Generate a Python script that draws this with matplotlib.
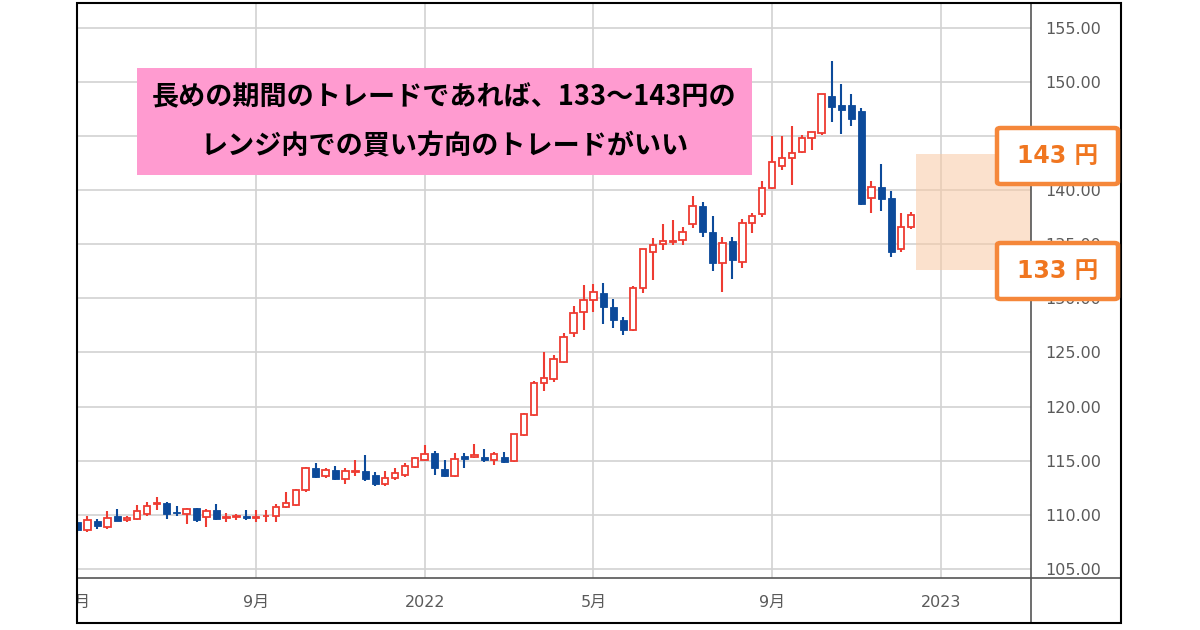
import numpy as np
import matplotlib
matplotlib.use('Agg')
import matplotlib.pyplot as plt
from matplotlib.patches import Rectangle, FancyBboxPatch
from matplotlib.lines import Line2D

plt.rcParams['font.family'] = ['DejaVu Sans', 'Noto Sans CJK JP']

# weekly USD/JPY candles, May 2021 - Dec 2022
opens = [109.35, 108.60, 109.43, 108.84, 109.90, 109.55, 109.60, 110.07, 111.00, 111.10,
         110.25, 110.07, 110.60, 109.77, 110.44, 109.72, 109.78, 109.90, 109.70, 109.85,
         109.90, 110.75, 110.90, 112.30, 114.30, 113.60, 114.14, 113.28, 113.95, 114.00,
         113.70, 112.85, 113.37, 113.70, 114.45, 115.06, 115.74, 114.20, 113.60, 115.43,
         115.31, 115.37, 115.06, 115.30, 115.00, 117.40, 119.20, 122.15, 122.52, 124.15,
         126.77, 128.70, 129.85, 130.47, 129.23, 128.00, 127.08, 130.93, 134.30, 135.00,
         135.20, 135.40, 136.85, 138.54, 136.10, 133.25, 135.30, 133.40, 136.94, 137.80,
         140.20, 142.20, 142.95, 143.56, 144.80, 145.26, 148.73, 147.90, 147.90, 147.30,
         139.25, 140.30, 139.30, 134.60, 136.55]
highs = [109.70, 109.90, 109.60, 110.35, 110.50, 109.90, 110.90, 111.20, 111.67, 111.15,
         110.80, 110.60, 110.65, 110.50, 111.00, 110.20, 110.10, 110.45, 110.40, 110.44,
         111.00, 112.10, 112.40, 114.45, 114.76, 114.30, 114.50, 114.30, 115.06, 115.50,
         113.95, 114.00, 114.35, 114.76, 115.30, 116.45, 115.85, 115.06, 115.70, 115.74,
         116.50, 116.05, 115.80, 115.80, 117.50, 119.40, 122.40, 125.07, 124.77, 126.77,
         129.30, 131.24, 131.35, 131.40, 129.90, 128.25, 131.10, 134.60, 135.55, 136.90,
         137.20, 136.63, 139.46, 138.94, 137.60, 135.65, 135.65, 137.30, 137.86, 140.85,
         145.00, 145.00, 145.90, 145.10, 145.40, 148.86, 151.94, 149.80, 148.90, 147.60,
         140.85, 142.40, 139.90, 137.90, 138.00]
lows = [108.30, 108.40, 108.70, 108.66, 109.40, 109.30, 109.50, 109.90, 110.44, 109.60,
        109.90, 109.15, 109.36, 108.85, 109.55, 109.35, 109.50, 109.55, 109.30, 109.36,
        109.36, 110.60, 110.80, 112.10, 113.40, 113.40, 113.20, 112.85, 113.60, 113.15,
        112.66, 112.70, 113.20, 113.50, 114.35, 115.00, 113.68, 113.50, 113.50, 114.30,
        115.20, 114.90, 114.60, 114.80, 114.90, 117.30, 119.10, 121.47, 122.30, 124.00,
        126.46, 127.08, 128.77, 127.60, 127.24, 126.60, 127.00, 130.50, 131.70, 134.47,
        134.90, 134.94, 136.50, 135.70, 132.56, 130.56, 131.80, 132.78, 136.00, 137.50,
        140.10, 141.90, 140.50, 143.40, 143.70, 145.10, 146.30, 145.20, 145.90, 138.60,
        137.90, 138.10, 133.85, 134.30, 136.40]
closes = [108.60, 109.50, 108.96, 109.73, 109.45, 109.65, 110.30, 110.80, 111.10, 110.07,
          110.15, 110.50, 109.50, 110.30, 109.60, 109.80, 109.86, 109.65, 109.80, 109.92,
          110.75, 111.10, 112.30, 114.30, 113.50, 114.14, 113.30, 114.00, 114.05, 113.28,
          112.85, 113.40, 113.90, 114.50, 115.20, 115.60, 114.30, 113.60, 115.13, 115.13,
          115.53, 115.06, 115.60, 114.90, 117.44, 119.30, 122.15, 122.60, 124.37, 126.46,
          128.60, 129.85, 130.60, 129.23, 128.00, 127.08, 131.00, 134.54, 134.94, 135.30,
          135.28, 136.16, 138.54, 136.10, 133.25, 135.10, 133.55, 137.00, 137.60, 140.20,
          142.60, 142.95, 143.40, 144.85, 145.40, 148.86, 147.70, 147.40, 146.60, 138.70,
          140.30, 139.20, 134.30, 136.60, 137.70]

# month labels sit on the first weekly candle of that month
tick_index = [0, 18, 35, 52, 70, 87]
tick_labels = ['5月', '9月', '2022', '5月', '9月', '2023']
y_ticks = [105, 110, 115, 120, 125, 130, 135, 140, 145, 150, 155]

range_low, range_high = 132.6, 143.3
range_labels = ['143 円', '133 円']
note_lines = ['長めの期間のトレードであれば、133～143円の',
              'レンジ内での買い方向のトレードがいい']

RED = '#ee3b32'
BLUE = '#0c4a9a'
ORANGE = '#f5873a'
W, H = 1200, 630


def fx(px):
    return px / W


def fy(py):
    # pixel measured from the top of the image -> figure fraction
    return 1 - py / H


fig = plt.figure(figsize=(12, 6.3), dpi=100)
ax = fig.add_axes([fx(77), fy(578), fx(1031 - 77), (578 - 3) / H])

o = np.array(opens)
h = np.array(highs)
l = np.array(lows)
c = np.array(closes)
x = np.arange(len(o))
up = c >= o
bottom = np.minimum(o, c)
height = np.maximum(np.abs(c - o), 0.06)

ax.vlines(x[up], l[up], h[up], color=RED, lw=1.5, zorder=2)
ax.vlines(x[~up], l[~up], h[~up], color=BLUE, lw=1.5, zorder=2)
ax.bar(x[up], height[up], bottom=bottom[up], width=0.66, facecolor='white',
       edgecolor=RED, linewidth=1.3, zorder=3)
ax.bar(x[~up], height[~up], bottom=bottom[~up], width=0.72, color=BLUE,
       edgecolor=BLUE, linewidth=0.6, zorder=3)

# target range shading
ax.add_patch(Rectangle((84.55, range_low), 20, range_high - range_low,
                       facecolor='#f9c9a4', alpha=0.55, edgecolor='none', zorder=1.5))

ax.set_xlim(-0.05, 96.1)
ax.set_ylim(104.15, 157.3)
ax.set_xticks(tick_index)
ax.set_xticklabels(tick_labels)
ax.set_yticks(y_ticks)
ax.set_yticklabels([f'{v:.2f}' for v in y_ticks])
ax.yaxis.tick_right()
ax.tick_params(axis='y', length=0, pad=10, labelsize=11.5, labelcolor='#5a5a5a')
ax.tick_params(axis='x', length=0, pad=12.5, labelsize=11.5, labelcolor='#5a5a5a')
ax.grid(True, color='#d2d2d2', lw=1.2)
ax.set_axisbelow(True)
for side in ['top', 'right', 'bottom', 'left']:
    ax.spines[side].set_visible(False)

# hide the part of the first month label that falls outside the frame
fig.add_artist(Rectangle((0, 0), fx(76), fy(579), transform=fig.transFigure,
                         facecolor='white', edgecolor='none', zorder=5))

# frame: outer box plus the axis separators
fig.add_artist(Line2D([fx(1031), fx(1031)], [fy(3), fy(623)], color='#555555',
                      lw=1.2, transform=fig.transFigure, zorder=6))
fig.add_artist(Line2D([fx(77), fx(1121)], [fy(578), fy(578)], color='#555555',
                      lw=1.2, transform=fig.transFigure, zorder=6))
fig.add_artist(Rectangle((fx(77), fy(623)), fx(1121 - 77), (623 - 3) / H,
                         transform=fig.transFigure, facecolor='none',
                         edgecolor='black', lw=1.5, zorder=7))

# pink note
fig.add_artist(Rectangle((fx(137), fy(175)), fx(752 - 137), (175 - 68) / H,
                         transform=fig.transFigure, facecolor='#ff9bd0',
                         edgecolor='none', zorder=5))
for line, py in zip(note_lines, [97, 146]):
    fig.text(fx(444.5), fy(py), line, ha='center', va='center', fontsize=19.5,
             fontweight='bold', color='black', family=['Noto Sans CJK JP'], zorder=6)

# range price tags
for label, top in zip(range_labels, [128, 243]):
    fig.add_artist(FancyBboxPatch((fx(997), fy(top + 56)), fx(121), 56 / H,
                                  boxstyle='round,pad=0,rounding_size=0.003',
                                  transform=fig.transFigure, facecolor='white',
                                  edgecolor=ORANGE, lw=3.2, zorder=8))
    fig.text(fx(1058), fy(top + 28), label, ha='center', va='center', fontsize=17,
             fontweight='bold', color='#f07620', zorder=9)

fig.savefig('out.png', dpi=100, facecolor='white')
